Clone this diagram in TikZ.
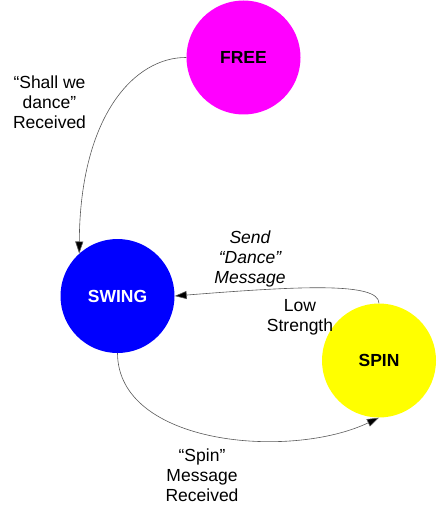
\documentclass[tikz,border=0pt]{standalone}
\usepackage{fontspec}
\setmainfont{Liberation Sans}
\usetikzlibrary{arrows.meta}
\begin{document}
\begin{tikzpicture}[x=1pt,y=-1pt,
  statenode/.style={circle,minimum size=114pt,inner sep=0pt,font=\fontsize{17.5}{20}\selectfont\bfseries},
  lbl/.style={align=center,inner sep=0pt,font=\fontsize{17.5}{20}\selectfont},
  conn/.style={line width=0.6pt,draw=black!65,-{Triangle[length=12pt,width=8pt,fill=black]}}]
\useasboundingbox (0,0) rectangle (436,516);
\node[statenode,fill={rgb,255:red,255;green,0;blue,255}] (free) at (243.5,57.5) {FREE};
\node[statenode,fill={rgb,255:red,0;green,0;blue,255},text=white] (swing) at (117.5,296) {SWING};
\node[statenode,fill={rgb,255:red,255;green,255;blue,0}] (spin) at (379,360.5) {SPIN};
\draw[conn] (free.west) .. controls (135,57) and (80,115) .. (swing.132);
\draw[conn] (spin.north) .. controls (379,282) and (300,286) .. (swing.east);
\draw[conn] (swing.south) .. controls (118,445) and (290,460) .. (spin.south);
\node[lbl] (l1) at (49.5,102.7) {“Shall we\\dance”\\Received};
\node[lbl,font=\fontsize{17.5}{20}\selectfont\itshape] (l2) at (250,258.5) {Send\\“Dance”\\Message};
\node[lbl] (l3) at (300,317.5) {Low\\Strength};
\node[lbl] (l4) at (202,475.7) {“Spin”\\Message\\Received};
\end{tikzpicture}
\end{document}
